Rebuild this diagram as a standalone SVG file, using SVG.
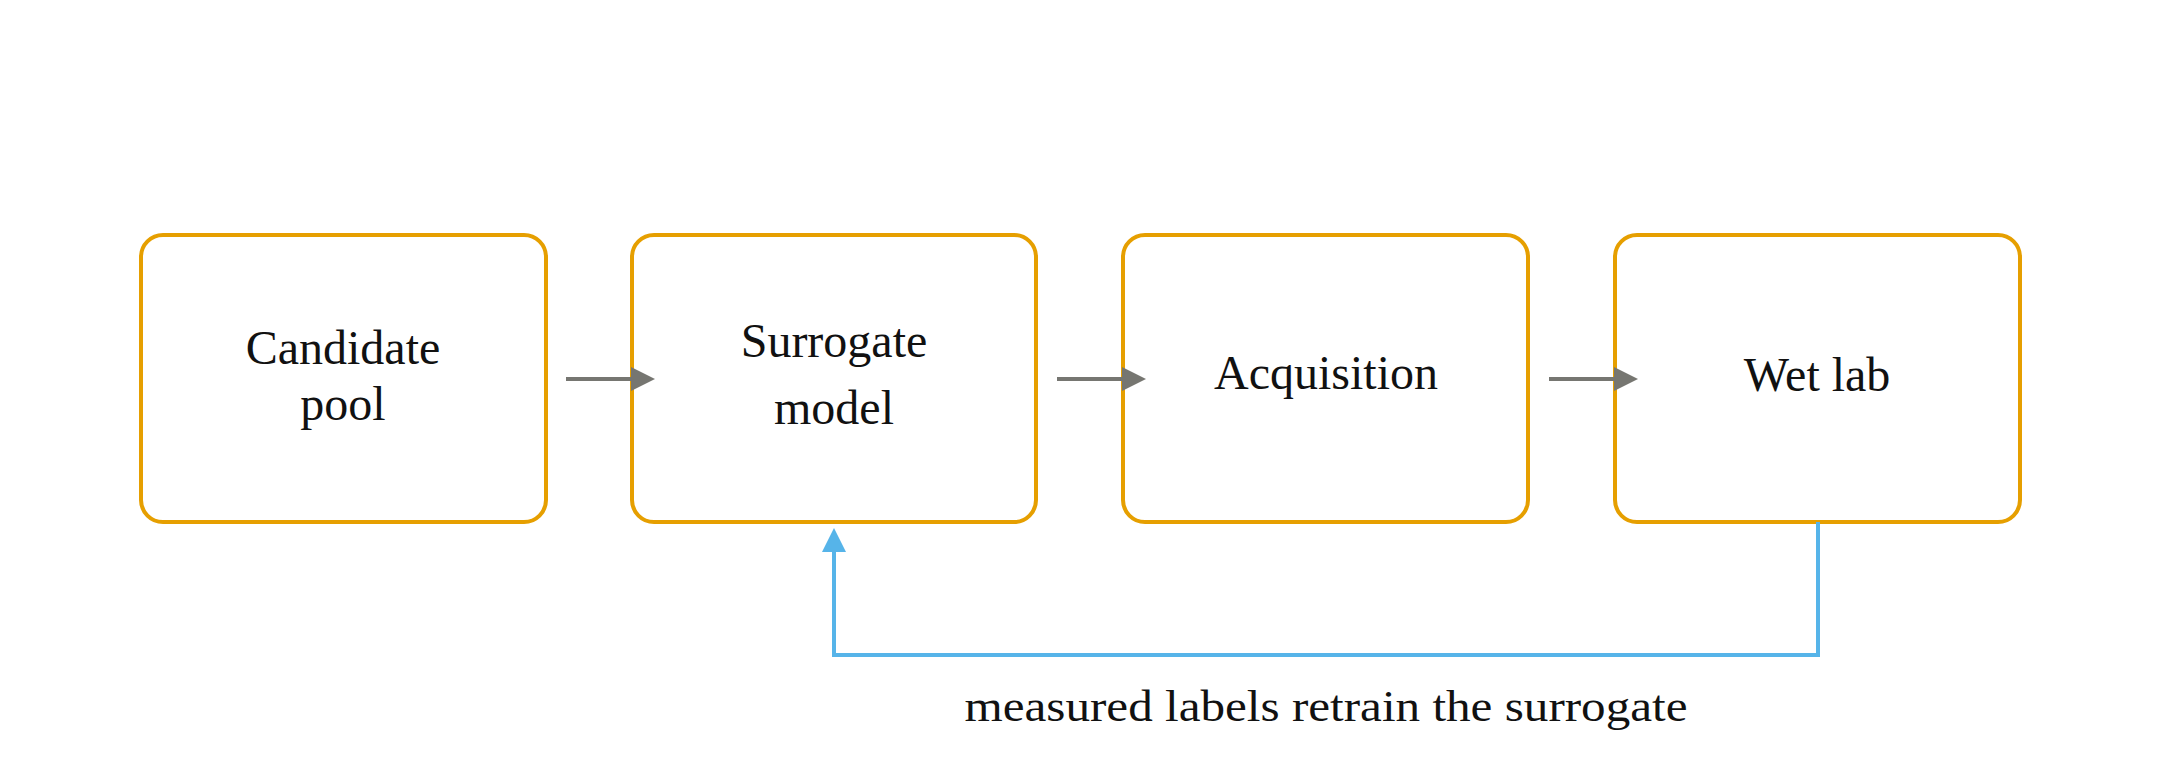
<svg xmlns="http://www.w3.org/2000/svg" width="2160" height="780" viewBox="0 0 2160 780">
<style>
.box{fill:#fff;stroke:#e69f00;stroke-width:4}
.t{font-family:"Liberation Serif","DejaVu Serif",serif;font-size:48px;fill:#111;text-anchor:middle}
.lbl{font-family:"Liberation Serif","DejaVu Serif",serif;font-size:45px;fill:#111;text-anchor:middle}
.a{stroke:#767671;stroke-width:4;fill:none;marker-end:url(#ga)}
.fb{stroke:#56b4e9;stroke-width:4;fill:none;marker-end:url(#ba)}
</style>
<defs>
<marker id="ga" markerWidth="6" markerHeight="6" refX="5" refY="3" orient="auto" markerUnits="strokeWidth"><path d="M0,0 L6,3 L0,6 Z" fill="#767671"/></marker>
<marker id="ba" markerWidth="6" markerHeight="6" refX="5" refY="3" orient="auto" markerUnits="strokeWidth"><path d="M0,0 L6,3 L0,6 Z" fill="#56b4e9"/></marker>
</defs>
<rect width="2160" height="780" fill="#fff"/>
<g id="candidate"><rect class="box" x="141" y="235" width="405" height="287" rx="22"/><text class="t" x="343" y="364">Candidate</text><text class="t" x="343" y="420">pool</text></g>
<g id="surrogate"><rect class="box" x="632" y="235" width="404" height="287" rx="22"/><text class="t" x="834" y="357">Surrogate</text><text class="t" x="834" y="424">model</text></g>
<g id="acquisition"><rect class="box" x="1123" y="235" width="405" height="287" rx="22"/><text class="t" x="1326" y="389">Acquisition</text></g>
<g id="wetlab"><rect class="box" x="1615" y="235" width="405" height="287" rx="22"/><text class="t" x="1817" y="391">Wet lab</text></g>
<g id="connectors">
<path class="a" d="M566,379 H651"/>
<path class="a" d="M1057,379 H1142"/>
<path class="a" d="M1549,379 H1634"/>
<path class="fb" d="M1818,522 V655 H834 V532"/>
<text class="lbl" x="1326" y="721" textLength="723" lengthAdjust="spacingAndGlyphs">measured labels retrain the surrogate</text>
</g>
</svg>
